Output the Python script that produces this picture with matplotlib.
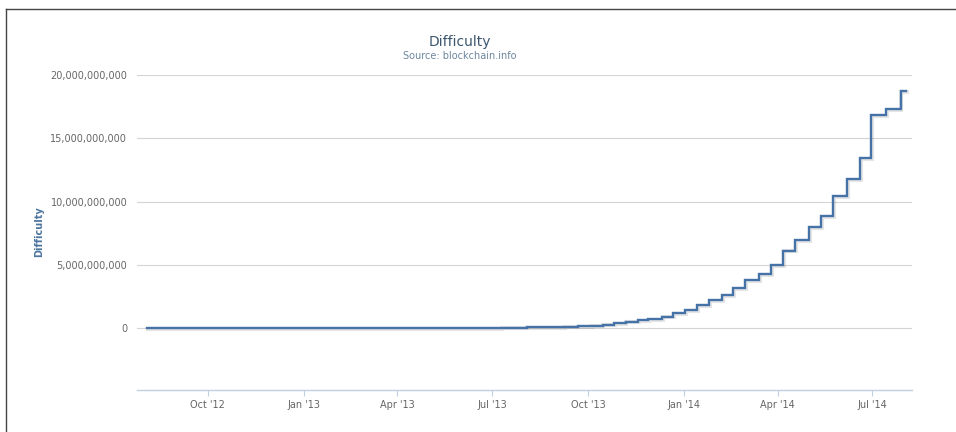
import matplotlib
matplotlib.use("Agg")
import matplotlib.pyplot as plt
import matplotlib.dates as mdates
import matplotlib.patheffects as pe
from matplotlib.lines import Line2D
from matplotlib.ticker import FuncFormatter
import pandas as pd

# difficulty retargets (date the new value takes effect, difficulty)
dates = [
    "2012-08-04", "2012-08-18", "2012-09-01", "2012-09-14", "2012-09-28",
    "2012-10-12", "2012-10-26", "2012-11-09", "2012-11-23", "2012-12-07",
    "2012-12-21", "2013-01-04", "2013-01-17", "2013-01-30", "2013-02-12",
    "2013-02-25", "2013-03-09", "2013-03-22", "2013-04-04", "2013-04-17",
    "2013-04-29", "2013-05-11", "2013-05-23", "2013-06-04", "2013-06-16",
    "2013-06-28", "2013-07-10", "2013-07-22", "2013-08-03", "2013-08-15",
    "2013-08-27", "2013-09-08", "2013-09-21", "2013-10-04", "2013-10-15",
    "2013-10-26", "2013-11-06", "2013-11-18", "2013-11-28", "2013-12-11",
    "2013-12-22", "2014-01-02", "2014-01-14", "2014-01-25", "2014-02-07",
    "2014-02-17", "2014-03-01", "2014-03-14", "2014-03-26", "2014-04-06",
    "2014-04-18", "2014-05-01", "2014-05-13", "2014-05-24", "2014-06-07",
    "2014-06-19", "2014-06-30", "2014-07-14", "2014-07-28", "2014-08-02",
]
difficulty = [
    2.69e6, 2.87e6, 3.05e6, 3.10e6, 3.37e6,
    3.44e6, 3.37e6, 3.37e6, 3.44e6, 3.44e6,
    3.25e6, 3.28e6, 3.65e6, 4.37e6, 4.85e6,
    6.70e6, 7.67e6, 8.97e6, 10.08e6, 11.19e6,
    12.15e6, 14.62e6, 15.61e6, 19.34e6, 21.34e6,
    26.16e6, 31.26e6, 37.39e6, 50.81e6, 65.75e6,
    86.93e6, 112.63e6, 148.82e6, 189.06e6, 267.73e6,
    390.71e6, 510.93e6, 609.48e6, 707.41e6, 908.35e6,
    1180.92e6, 1418.48e6, 1789.55e6, 2193.85e6, 2621.40e6,
    3129.57e6, 3815.72e6, 4250.22e6, 5006.86e6, 6119.73e6,
    6978.84e6, 8000.87e6, 8853.42e6, 10455.72e6, 11756.55e6,
    13462.58e6, 16818.46e6, 17336.32e6, 18736.44e6, 18736.44e6,
]
y_ticks = [0, 5e9, 10e9, 15e9, 20e9]

x = pd.to_datetime(dates)

fig = plt.figure(figsize=(9.56, 4.32), dpi=100)
ax = fig.add_axes([137 / 956, 1 - 390 / 432, 775 / 956, 315 / 432])

ax.plot(x, difficulty, drawstyle="steps-post", color="#4572A7", lw=1.7,
        solid_joinstyle="miter",
        path_effects=[pe.SimpleLineShadow(offset=(0.6, -0.6), alpha=0.1,
                                          shadow_color="k", linewidth=3),
                      pe.Normal()])

ax.set_xlim(pd.Timestamp("2012-07-25"), pd.Timestamp("2014-08-08"))
ax.set_ylim(-4.9e9, 20e9)

ax.set_yticks(y_ticks)
ax.yaxis.set_major_formatter(FuncFormatter(lambda v, p: f"{int(v):,}"))
ax.tick_params(axis="y", length=0, pad=7, labelsize=7, labelcolor="#666666")
ax.grid(axis="y", color="#d4d4d4", lw=0.8)
ax.set_axisbelow(True)

ax.xaxis.set_major_locator(mdates.MonthLocator(bymonth=[1, 4, 7, 10]))
ax.xaxis.set_major_formatter(mdates.DateFormatter("%b '%y"))
ax.tick_params(axis="x", length=4, width=0.8, color="#C0D0E0", pad=3,
               labelsize=7, labelcolor="#666666")

for s in ["top", "right", "left"]:
    ax.spines[s].set_visible(False)
ax.spines["bottom"].set_color("#C0D0E0")
ax.spines["bottom"].set_linewidth(1)

fig.text(39 / 956, 1 - 232 / 432, "Difficulty", rotation=90, ha="center",
         va="center", fontsize=7, fontweight="bold", color="#4D759E")
fig.text(460 / 956, 1 - 42 / 432, "Difficulty", ha="center", va="center",
         fontsize=10, color="#3E576F")
fig.text(460 / 956, 1 - 56 / 432, "Source: blockchain.info", ha="center",
         va="center", fontsize=7, color="#6D869F")

# outer frame, left and top edges
fig.add_artist(Line2D([6 / 956, 6 / 956], [0, 1 - 9 / 432],
                      transform=fig.transFigure, color="#444444", lw=1))
fig.add_artist(Line2D([6 / 956, 1], [1 - 9 / 432, 1 - 9 / 432],
                      transform=fig.transFigure, color="#444444", lw=1))

fig.savefig("out.png", dpi=100)
